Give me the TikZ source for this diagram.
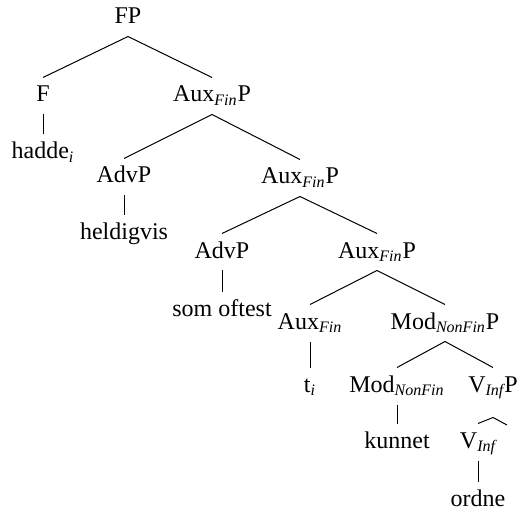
\documentclass[tikz,border=0pt]{standalone}
\usepackage{fontspec}
\setmainfont{Liberation Serif}
\usepackage{tikz}

\newcommand{\lsub}[1]{\textsubscript{\itshape #1}}

\begin{document}
\begin{tikzpicture}[x=0.5pt, y=-0.5pt, line width=0.5pt, every node/.style={anchor=base, inner sep=0pt, text height=12pt, text depth=6pt, font=\fontsize{12}{14}\selectfont}]
  \useasboundingbox (0,0) rectangle (519,513);
  \node (fp) at (128,24) {FP};
  \node (f) at (43,102) {F};
  \node (auxa) at (212,102) {Aux\lsub{Fin}P};
  \node (hadde) at (43,159) {hadde\lsub{i}};
  \node (advpa) at (124,183) {AdvP};
  \node (auxb) at (300,184) {Aux\lsub{Fin}P};
  \node (held) at (124,240) {heldigvis};
  \node (advpb) at (222,258) {AdvP};
  \node (auxc) at (377,258) {Aux\lsub{Fin}P};
  \node (som) at (222,316) {som oftest};
  \node (auxfin) at (310,329) {Aux\lsub{Fin}};
  \node (modp) at (445,329) {Mod\lsub{NonFin}P};
  \node (t) at (310,392) {t\lsub{i}};
  \node (mod) at (397,392) {Mod\lsub{NonFin}};
  \node (vp) at (493,392) {V\lsub{Inf}P};
  \node (kunnet) at (397,448) {kunnet};
  \node (vinf) at (478,448) {V\lsub{Inf}};
  \node (ordne) at (478,506) {ordne};
  \coordinate (vpr) at (507,425);
  \draw (fp.south) edge (f.north);
  \draw (fp.south) edge (auxa.north);
  \draw (f.south) edge (hadde.north);
  \draw (auxa.south) edge (advpa.north);
  \draw (auxa.south) edge (auxb.north);
  \draw (advpa.south) edge (held.north);
  \draw (auxb.south) edge (advpb.north);
  \draw (auxb.south) edge (auxc.north);
  \draw (advpb.south) edge (som.north);
  \draw (auxc.south) edge (auxfin.north);
  \draw (auxc.south) edge (modp.north);
  \draw (auxfin.south) edge (t.north);
  \draw (modp.south) edge (mod.north);
  \draw (modp.south) edge (vp.north);
  \draw (mod.south) edge (kunnet.north);
  \draw ([yshift=-6.5pt]vp.south) edge (vinf.north);
  \draw ([yshift=-6.5pt]vp.south) edge (vpr);
  \draw (vinf.south) edge (ordne.north);
\end{tikzpicture}
\end{document}
